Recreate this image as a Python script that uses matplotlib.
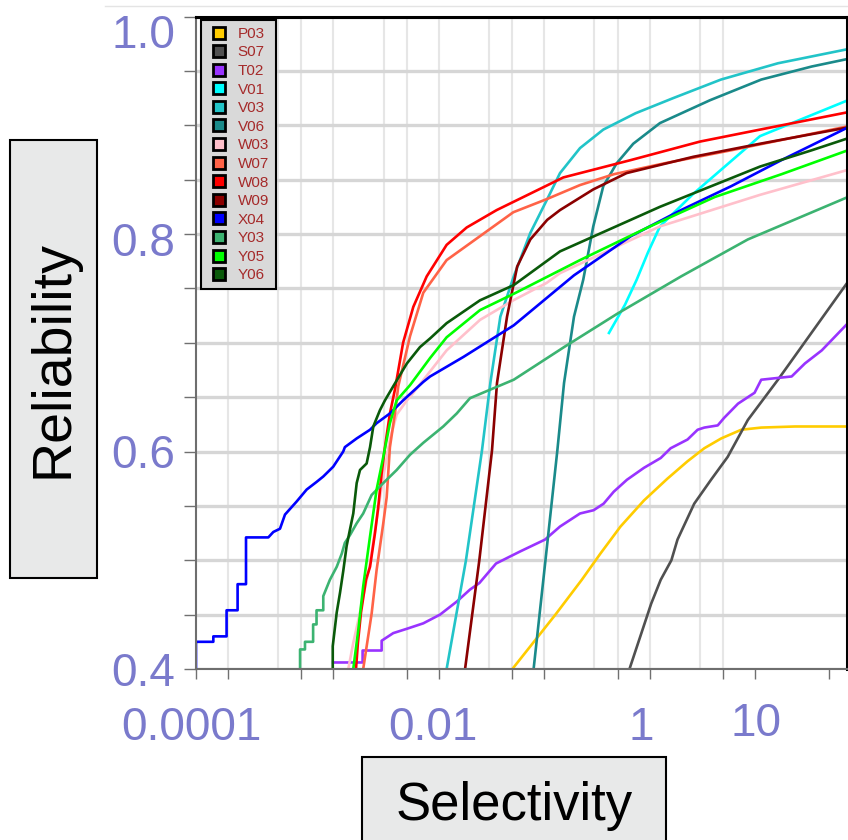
import matplotlib.pyplot as plt
import matplotlib.transforms as mtransforms
from matplotlib.lines import Line2D
from matplotlib.patches import Rectangle
from matplotlib.ticker import FixedLocator, NullFormatter
import numpy as np

plt.rcParams['font.family'] = ['Liberation Sans', 'DejaVu Sans']

# selectivity / reliability
p03_sel = [0.1, 0.256, 0.455, 0.682, 1.06, 1.77, 2.95, 4.58, 6.61, 9.55, 14.8, 22.9, 47.8, 152]
p03_rel = [0.400, 0.450, 0.482, 0.506, 0.531, 0.555, 0.575, 0.591, 0.603, 0.612, 0.620, 0.622, 0.623, 0.623]

s07_sel = [1.29, 2.07, 2.55, 3.22, 3.68, 5.3, 7.65, 11.0, 17.1, 33.0, 152]
s07_rel = [0.400, 0.460, 0.482, 0.500, 0.519, 0.552, 0.574, 0.595, 0.629, 0.666, 0.756]

t02_sel = [2.0e-3, 3.8e-3, 3.8e-3, 5.76e-3, 5.76e-3, 7.42e-3, 1.0e-2, 1.43e-2, 2.06e-2, 2.97e-2,
           3.96e-2, 4.86e-2, 7.0e-2, 0.118, 0.204, 0.283, 0.438, 0.589, 0.733, 0.914, 1.22, 1.77,
           2.55, 3.17, 4.58, 5.71, 6.61, 8.86, 10.2, 13.8, 19.8, 22.9, 44.5, 59.5, 85.9, 152]
t02_rel = [0.406, 0.406, 0.417, 0.417, 0.426, 0.433, 0.437, 0.442, 0.450, 0.462,
           0.473, 0.479, 0.497, 0.508, 0.519, 0.531, 0.543, 0.546, 0.552, 0.563, 0.574, 0.585,
           0.594, 0.603, 0.611, 0.620, 0.622, 0.624, 0.631, 0.644, 0.654, 0.666, 0.669, 0.681, 0.693, 0.718]

v01_sel = [0.824, 1.17, 1.51, 1.93, 2.51, 5.2, 22.3, 152]
v01_rel = [0.709, 0.735, 0.758, 0.783, 0.807, 0.837, 0.890, 0.923]

v03_sel = [2.38e-2, 3.63e-2, 5.15e-2, 6.18e-2, 7.69e-2, 0.103, 0.148, 0.214, 0.283, 0.438, 0.728,
           1.47, 3.36, 9.5, 33.0, 152]
v03_rel = [0.400, 0.500, 0.601, 0.663, 0.724, 0.761, 0.801, 0.832, 0.856, 0.879, 0.896,
           0.911, 0.925, 0.942, 0.957, 0.970]

v06_sel = [0.159, 0.206, 0.267, 0.309, 0.384, 0.47, 0.585, 0.728, 0.975, 1.40, 2.51, 7.48, 22.9, 68.9, 152]
v06_rel = [0.400, 0.500, 0.601, 0.663, 0.724, 0.758, 0.807, 0.844, 0.865, 0.883, 0.902, 0.923, 0.942, 0.954, 0.961]

w03_sel = [2.78e-3, 3.1e-3, 3.59e-3, 4.47e-3, 5.16e-3, 5.97e-3, 6.9e-3, 8.0e-3, 1.0e-2, 1.15e-2,
           2.38e-2, 4.93e-2, 0.102, 0.211, 0.283, 2.51, 22.3, 152]
w03_rel = [0.400, 0.424, 0.452, 0.497, 0.537, 0.577, 0.611, 0.634, 0.647, 0.654,
           0.693, 0.721, 0.739, 0.755, 0.764, 0.807, 0.836, 0.859]

w07_sel = [3.85e-3, 4.63e-3, 5.16e-3, 5.97e-3, 6.43e-3, 6.9e-3, 7.7e-3, 8.28e-3, 1.07e-2, 1.43e-2,
           2.38e-2, 4.93e-2, 0.102, 0.211, 0.438, 0.919, 2.77, 11.9, 152]
w07_rel = [0.400, 0.451, 0.491, 0.534, 0.558, 0.604, 0.635, 0.660, 0.706, 0.746,
           0.776, 0.798, 0.820, 0.832, 0.845, 0.855, 0.865, 0.877, 0.899]

w08_sel = [3.29e-3, 3.43e-3, 3.67e-3, 4.09e-3, 4.47e-3, 4.98e-3, 5.35e-3, 5.76e-3, 6.19e-3, 6.9e-3,
           7.7e-3, 9.2e-3, 1.15e-2, 1.54e-2, 2.38e-2, 3.69e-2, 7.1e-2, 0.147, 0.304, 1.33, 6.02, 22.3, 152]
w08_rel = [0.400, 0.424, 0.452, 0.482, 0.494, 0.525, 0.549, 0.580, 0.604, 0.635,
           0.657, 0.700, 0.733, 0.761, 0.790, 0.806, 0.822, 0.837, 0.852, 0.868, 0.885, 0.896, 0.912]

w09_sel = [3.56e-2, 4.86e-2, 6.41e-2, 7.15e-2, 8.9e-2, 0.111, 0.148, 0.214, 0.283, 0.585, 1.21, 5.2, 22.3, 152]
w09_rel = [0.400, 0.500, 0.601, 0.663, 0.724, 0.770, 0.795, 0.813, 0.822, 0.841, 0.856, 0.871, 0.883, 0.898]

x04_sel = [1.0e-4, 1.0e-4, 1.46e-4, 1.46e-4, 1.95e-4, 1.95e-4, 2.48e-4, 2.48e-4, 2.98e-4, 2.98e-4,
           4.85e-4, 5.41e-4, 6.26e-4, 6.98e-4, 9.0e-4, 1.12e-3, 1.39e-3, 1.61e-3, 2.0e-3, 2.49e-3,
           2.58e-3, 3.34e-3, 4.47e-3, 5.16e-3, 6.9e-3, 9.2e-3, 1.43e-2, 1.66e-2, 3.44e-2, 0.103,
           0.384, 1.33, 3.98, 11.9, 35.7, 152]
x04_rel = [0.400, 0.425, 0.425, 0.430, 0.430, 0.454, 0.454, 0.478, 0.478, 0.521,
           0.521, 0.526, 0.529, 0.542, 0.554, 0.565, 0.572, 0.577, 0.586, 0.600,
           0.604, 0.612, 0.620, 0.626, 0.635, 0.647, 0.664, 0.669, 0.687, 0.716,
           0.762, 0.798, 0.822, 0.844, 0.868, 0.898]

y03_sel = [9.7e-4, 9.7e-4, 1.08e-3, 1.08e-3, 1.29e-3, 1.29e-3, 1.39e-3, 1.39e-3, 1.61e-3, 1.61e-3,
           1.86e-3, 2.16e-3, 2.41e-3, 2.58e-3, 2.88e-3, 3.34e-3, 3.85e-3, 4.63e-3, 5.97e-3, 8.0e-3,
           1.07e-2, 1.43e-2, 2.21e-2, 2.97e-2, 3.96e-2, 0.103, 0.309, 1.0, 3.98, 17.1, 152]
y03_rel = [0.400, 0.418, 0.418, 0.425, 0.425, 0.441, 0.441, 0.454, 0.454, 0.467,
           0.482, 0.494, 0.506, 0.516, 0.523, 0.534, 0.543, 0.560, 0.571, 0.583,
           0.597, 0.608, 0.623, 0.635, 0.649, 0.666, 0.696, 0.727, 0.761, 0.795, 0.834]

y05_sel = [3.1e-3, 3.46e-3, 3.85e-3, 4.47e-3, 5.16e-3, 5.97e-3, 6.9e-3, 8.0e-3, 1.07e-2, 1.66e-2,
           2.38e-2, 4.93e-2, 0.103, 0.438, 1.92, 8.3, 35.7, 152]
y05_rel = [0.400, 0.436, 0.476, 0.522, 0.565, 0.595, 0.626, 0.647, 0.661, 0.686,
           0.705, 0.730, 0.745, 0.776, 0.806, 0.834, 0.855, 0.877]

y06_sel = [1.98e-3, 1.98e-3, 2.16e-3, 2.32e-3, 2.49e-3, 2.68e-3, 2.88e-3, 3.1e-3, 3.34e-3, 3.59e-3,
           4.15e-3, 4.47e-3, 4.8e-3, 5.55e-3, 6.19e-3, 7.42e-3, 1.0e-2, 1.33e-2, 1.66e-2, 2.38e-2,
           4.93e-2, 0.103, 0.283, 2.51, 22.3, 69.0, 152]
y06_rel = [0.400, 0.421, 0.452, 0.470, 0.490, 0.513, 0.528, 0.543, 0.571, 0.583,
           0.589, 0.604, 0.623, 0.638, 0.647, 0.660, 0.681, 0.696, 0.704, 0.718,
           0.739, 0.753, 0.784, 0.825, 0.862, 0.877, 0.888]

series_names = ['P03', 'S07', 'T02', 'V01', 'V03', 'V06', 'W03', 'W07', 'W08', 'W09', 'X04', 'Y03', 'Y05', 'Y06']
series_colors = ['#ffcc00', '#505050', '#9933ff', '#00ffff', '#22c4c8', '#1a8a8a', '#ffc0cb',
                 '#ff6347', '#ff0000', '#8b0000', '#0000ff', '#3cb371', '#00ff00', '#0a5a0a']
series_data = [(p03_sel, p03_rel), (s07_sel, s07_rel), (t02_sel, t02_rel), (v01_sel, v01_rel),
               (v03_sel, v03_rel), (v06_sel, v06_rel), (w03_sel, w03_rel), (w07_sel, w07_rel),
               (w08_sel, w08_rel), (w09_sel, w09_rel), (x04_sel, x04_rel), (y03_sel, y03_rel),
               (y05_sel, y05_rel), (y06_sel, y06_rel)]

x_labels = ['0.0001', '0.01', '1', '10']
x_label_vals = [1e-4, 1e-2, 1, 10]
y_label_vals = [0.4, 0.6, 0.8, 1.0]
label_color = '#7a7acc'

fig = plt.figure(figsize=(8.48, 8.40), dpi=100)
ax = fig.add_axes([196 / 848, 1 - 669 / 840, 651 / 848, 652.5 / 840])
ax.set_xscale('log')
ax.set_xlim(1e-4, 149)
ax.set_ylim(0.4, 1.0)

# grid: heavy horizontal lines, thin vertical ones at 1, 2, 6 per decade
ax.set_axisbelow(True)
ax.yaxis.set_major_locator(FixedLocator(y_label_vals))
ax.yaxis.set_minor_locator(FixedLocator(np.arange(0.45, 0.99, 0.05)))
ax.grid(axis='y', which='both', color='#d6d6d6', lw=2.4)
for e in range(-4, 2):
    for m in (1, 2, 6):
        v = m * 10.0 ** e
        if 1e-4 < v <= 10:
            ax.axvline(v, color='#e6e6e6', lw=1.5, zorder=0.4)

for name, color, (xs, ys) in zip(series_names, series_colors, series_data):
    ax.plot(xs, ys, color=color, lw=1.9, solid_joinstyle='round')

# ticks
ax.xaxis.set_major_locator(FixedLocator(x_label_vals))
ax.set_xticklabels(x_labels)
minor_x = [m * 10.0 ** e for e in range(-4, 3) for m in (1, 2) if 1e-4 <= m * 10.0 ** e <= 100]
ax.xaxis.set_minor_locator(FixedLocator([v for v in minor_x if v not in x_label_vals]))
ax.xaxis.set_minor_formatter(NullFormatter())
ax.set_yticklabels(['0.4', '0.6', '0.8', '1.0'])
ax.tick_params(axis='x', which='both', direction='out', length=7, width=1, color='#707070')
ax.tick_params(axis='y', which='both', direction='out', length=9, width=1, color='#707070')
ax.tick_params(axis='x', which='major', labelsize=33, labelcolor=label_color, pad=20)
ax.tick_params(axis='y', which='major', labelsize=33, labelcolor=label_color, pad=6)

x_shift = [(-5, 0), (26, 0), (23, 0), (33, 4)]
for lab, (dx, dy) in zip(ax.get_xticklabels(), x_shift):
    lab.set_transform(lab.get_transform() + mtransforms.ScaledTranslation(dx / 100, dy / 100, fig.dpi_scale_trans))
y_shift = [0, 0, -5, -15]
for lab, dy in zip(ax.get_yticklabels(), y_shift):
    lab.set_transform(lab.get_transform() + mtransforms.ScaledTranslation(0, dy / 100, fig.dpi_scale_trans))

for side in ('left', 'bottom'):
    ax.spines[side].set_color('#6e6e6e')
    ax.spines[side].set_linewidth(1.5)
for side in ('top', 'right'):
    ax.spines[side].set_color('black')
    ax.spines[side].set_linewidth(2.2)

handles = [Line2D([], [], marker='s', linestyle='none', markerfacecolor=c, markeredgecolor='black',
                  markersize=8, markeredgewidth=2) for c in series_colors]
leg = ax.legend(handles, series_names, loc='upper left', bbox_to_anchor=(5 / 651, 649 / 652.5),
                borderaxespad=0, fontsize=11, frameon=True, fancybox=False, handlelength=1.5,
                handletextpad=0.45, borderpad=0.45, labelspacing=0.3)
leg.get_frame().set_facecolor('#d9d9d9')
leg.get_frame().set_edgecolor('black')
leg.get_frame().set_linewidth(1.5)
leg.get_frame().set_alpha(1)
for t in leg.get_texts():
    t.set_color('#a52a2a')

# axis title boxes
fig.add_artist(Rectangle((10 / 848, 1 - 578 / 840), 87 / 848, 438 / 840, transform=fig.transFigure,
                         facecolor='#e8e9e9', edgecolor='black', lw=1.5))
fig.text(54 / 848, 1 - 359 / 840, 'Reliability', rotation=90, ha='center', va='center', fontsize=40)
fig.add_artist(Rectangle((362 / 848, -0.05), 304 / 848, 0.05 + 83 / 840, transform=fig.transFigure,
                         facecolor='#e8e9e9', edgecolor='black', lw=1.5))
fig.text(514 / 848, 20 / 840, 'Selectivity', ha='center', va='baseline', fontsize=38)
fig.add_artist(Line2D([105 / 848, 1], [1 - 6 / 840] * 2, transform=fig.transFigure, color='#e4e4e4', lw=1))

fig.savefig('out.png', dpi=100)
